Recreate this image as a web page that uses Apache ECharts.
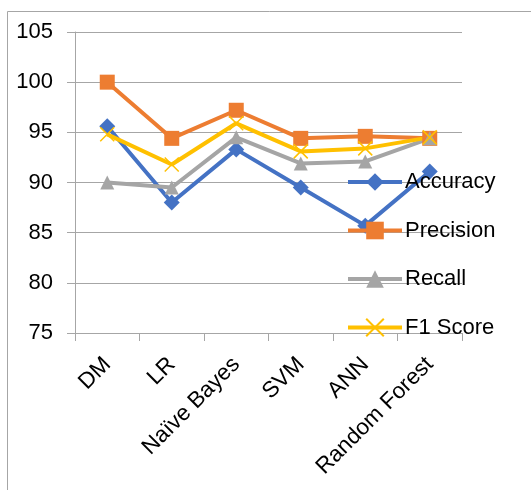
<!DOCTYPE html>
<html><head><meta charset="utf-8">
<script src="https://cdn.jsdelivr.net/npm/echarts@6/dist/echarts.min.js"></script>
<style>html,body{margin:0;padding:0;background:#fff}#c{width:531px;height:490px}</style>
</head><body><div id="c"></div>
<script>
const categories = ['DM', 'LR', 'Naïve Bayes', 'SVM', 'ANN', 'Random Forest'];
const accuracy = [95.6, 88.0, 93.3, 89.5, 85.7, 91.1];
const precision = [100, 94.4, 97.2, 94.4, 94.6, 94.4];
const recall = [90.0, 89.5, 94.5, 91.9, 92.1, 94.4];
const f1 = [94.8, 91.8, 95.9, 93.1, 93.4, 94.5];
const yTicks = [75, 80, 85, 90, 95, 100, 105];

const chart = echarts.init(document.getElementById('c'));
const font = '"Liberation Sans", "Open Sans", sans-serif';
function s(name, data, color, symbol, size, border) {
  return { name, type: 'line', data, symbol, symbolSize: size,
    lineStyle: { color, width: 4 },
    itemStyle: { color, borderColor: color, borderWidth: border || 0 } };
}
chart.setOption({
  animation: false,
  graphic: [{ type: 'rect', shape: { x: 7.5, y: 11.5, width: 600, height: 600 },
    style: { fill: 'none', stroke: '#a6a6a6', lineWidth: 1 } }],
  grid: { left: 75, top: 32, right: 69, bottom: 157 },
  xAxis: { type: 'category', data: categories, boundaryGap: true,
    axisLine: { lineStyle: { color: '#a6a6a6', width: 1 } },
    axisTick: { show: true, length: 8, lineStyle: { color: '#a6a6a6' } },
    axisLabel: { rotate: 45, color: '#000', fontSize: 22.5, fontFamily: font, margin: 28 } },
  yAxis: { type: 'value', min: 75, max: 105, interval: 5,
    axisLine: { show: true, lineStyle: { color: '#a6a6a6' } },
    axisTick: { show: true, length: 8, lineStyle: { color: '#a6a6a6' } },
    splitLine: { lineStyle: { color: '#a6a6a6', width: 1 } },
    axisLabel: { color: '#000', fontSize: 22, fontFamily: font, margin: 22,
      formatter: v => yTicks.includes(v) ? String(v) : '' } },
  legend: { orient: 'vertical', left: 341, top: 166, itemGap: 26.5, itemWidth: 54, itemHeight: 22,
    lineStyle: { width: 4 },
    textStyle: { fontSize: 22, fontFamily: font, color: '#000', padding: [0, 0, 0, -2] } },
  series: [
    s('Accuracy', accuracy, '#4472c4', 'diamond', 16),
    s('Precision', precision, '#ed7d31', 'rect', 15),
    s('Recall', recall, '#a5a5a5', 'triangle', 14),
    s('F1 Score', f1, '#ffc000', 'path://M0,0 L10,10 M10,0 L0,10', 14, 1.5)
  ]
});
</script></body></html>
